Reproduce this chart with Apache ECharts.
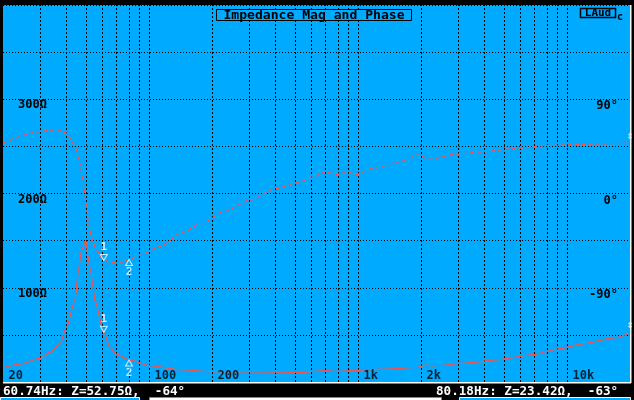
<!DOCTYPE html>
<html>
<head>
<meta charset="utf-8">
<script src="https://cdn.jsdelivr.net/npm/echarts@6/dist/echarts.min.js"></script>
<style>
html,body{margin:0;padding:0;background:#000;}
#c{width:634px;height:400px;}
</style>
</head>
<body>
<div id="c"></div>
<script>
// ---- data ----
var magFreq = [20, 24.1, 30, 33.5, 37.4, 40.2, 44.2, 45.9, 47.5, 49.9, 50.9, 52.5, 54, 55, 60.74, 64.9, 69.3, 80.18, 100.8, 140, 195, 525, 704, 786, 1016, 1362, 1895, 2116, 2268, 3286, 4738, 6814, 9168, 11848, 16754, 20000];
var magOhm  = [15, 19, 25, 31.5, 40, 58, 86.5, 118, 140, 150, 134, 118, 100, 86.5, 52.75, 37, 30, 23.42, 17.4, 13, 11, 10.2, 12, 11.2, 12.7, 13.7, 15.4, 18, 17, 20.1, 23.7, 29, 35.1, 40.4, 46.8, 52];

var phaseFreq = [20, 30, 33.5, 37.4, 40.2, 42.1, 44.2, 46.7, 48.4, 49.9, 51.2, 53.1, 56.1, 60.74, 67.1, 74.9, 80.18, 90.3, 112.5, 144.9, 178, 225.8, 302.8, 406, 525, 607, 704, 771, 893, 979, 1175, 1577, 1928, 2194, 2944, 3944, 5694, 8214, 11848, 19100, 20000];
var phaseDeg  = [48.4, 59, 60.6, 60.6, 57.7, 52.5, 44.8, 29, 10.3, -7.9, -26.5, -42.8, -54.3, -64, -66, -65.5, -63, -59, -51, -36.8, -28.7, -17.6, -6.4, 4.8, 11.1, 15.9, 20.7, 18.2, 20.1, 18.2, 23.9, 30.3, 36.7, 32.8, 37.6, 39.8, 43.1, 46, 46.9, 47.9, 48];

var gridFreqs = [30, 40, 50, 60, 70, 80, 90, 100, 200, 300, 400, 500, 600, 700, 800, 900, 1000, 2000, 3000, 4000, 5000, 6000, 7000, 8000, 9000, 10000];
var xLabelFreqs = [20, 100, 200, 1000, 2000, 10000];
var xLabelTexts = ['20', '100', '200', '1k', '2k', '10k'];
var magLabelValues = [100, 200, 300];
var phaseLabelValues = [-90, 0, 90];

var cursor1 = {f: 60.74, z: 52.75, p: -64, name: '1'};
var cursor2 = {f: 80.18, z: 23.42, p: -63, name: '2'};
var edgeMarks = {f: 20000, z: 60, p: 55};
var statusLeft = '60.74Hz: Z=52.75\u03A9,  -64\u00B0';
var statusRight = '80.18Hz: Z=23.42\u03A9,  -63\u00B0';
var title = 'Impedance Mag and Phase';

// ---- build ----
function zip(a, b) { return a.map(function (v, i) { return [v, b[i]]; }); }
var FONT = 'DejaVu Sans Mono';
var RED = '#ff5048';
var BLUE = '#00aaff';

var chart = echarts.init(document.getElementById('c'), null, {renderer: 'canvas'});

function markerSeries(c, axisIdx, val, down) {
  return {
    type: 'scatter', xAxisIndex: 0, yAxisIndex: axisIdx, silent: true, z: 10,
    data: [[c.f, val]],
    symbol: 'triangle', symbolSize: [7, 6], symbolRotate: down ? 180 : 0,
    symbolOffset: [0, down ? -3 : 3],
    itemStyle: {color: BLUE, borderColor: '#fff', borderWidth: 1},
    label: {show: true, formatter: c.name, position: down ? 'top' : 'bottom', distance: 1,
      color: '#fff', fontFamily: FONT, fontWeight: 'bold', fontSize: 11}
  };
}
function edgeSeries(axisIdx, val) {
  return {
    type: 'scatter', xAxisIndex: 0, yAxisIndex: axisIdx, silent: true, z: 10, clip: false,
    data: [[edgeMarks.f, val]],
    symbolSize: 1, itemStyle: {color: 'rgba(0,0,0,0)'},
    label: {show: true, formatter: '\u21D5', position: 'inside', color: '#fff',
      fontFamily: FONT, fontWeight: 'bold', fontSize: 11}
  };
}

var option = {
  backgroundColor: '#000',
  animation: false,
  grid: {left: 3, right: 4, top: 5, bottom: 18, show: true, backgroundColor: BLUE, borderWidth: 0},
  xAxis: {
    type: 'log', logBase: 10, min: 20, max: 20000,
    axisLine: {show: false}, axisTick: {show: false}, axisLabel: {show: false}, splitLine: {show: false}
  },
  yAxis: [{
    type: 'value', min: 0, max: 400, interval: 50, position: 'left',
    axisLine: {show: false}, axisTick: {show: false},
    splitLine: {show: true, lineStyle: {color: '#000', type: [1, 2], width: 1}},
    axisLabel: {inside: true, margin: 15, color: '#000', fontFamily: FONT, fontWeight: 'bold', fontSize: 12,
      verticalAlign: 'top', padding: [0, 0, 0, 0],
      formatter: function (v) { return magLabelValues.indexOf(v) >= 0 ? v + '\u03A9' : ''; }}
  }, {
    type: 'value', min: -180, max: 180, interval: 45, position: 'right',
    axisLine: {show: false}, axisTick: {show: false}, splitLine: {show: false},
    axisLabel: {inside: true, margin: 12, color: '#000', fontFamily: FONT, fontWeight: 'bold', fontSize: 12,
      verticalAlign: 'top', padding: [1, 0, 0, 0],
      formatter: function (v) { return phaseLabelValues.indexOf(v) >= 0 ? v + '\u00B0' : ''; }}
  }],
  series: [{
    type: 'line', name: 'mag', xAxisIndex: 0, yAxisIndex: 0, data: zip(magFreq, magOhm),
    showSymbol: false, symbol: 'none', smooth: 0.25, smoothMonotone: 'x', z: 5,
    lineStyle: {color: RED, width: 1.2},
    markLine: {
      silent: true, symbol: 'none', animation: false, z: 1,
      label: {show: false},
      lineStyle: {color: '#000', type: [2, 2], width: 1},
      emphasis: {disabled: true},
      data: gridFreqs.map(function (f) { return {xAxis: f}; })
    }
  }, {
    type: 'line', name: 'phase', xAxisIndex: 0, yAxisIndex: 1, data: zip(phaseFreq, phaseDeg),
    showSymbol: false, symbol: 'none', smooth: 0.25, smoothMonotone: 'x', z: 5,
    lineStyle: {color: RED, width: 1.2, type: [4, 3]}
  }, {
    type: 'scatter', xAxisIndex: 0, yAxisIndex: 0, silent: true, z: 6,
    data: xLabelFreqs.map(function (f, i) { return {value: [f, 7], name: xLabelTexts[i]}; }),
    symbolSize: 1, itemStyle: {color: 'rgba(0,0,0,0)'},
    label: {show: true, position: 'right', distance: 5, formatter: '{b}',
      color: '#000', fontFamily: FONT, fontWeight: 'bold', fontSize: 12}
  },
  markerSeries(cursor1, 1, cursor1.p, true),
  markerSeries(cursor1, 0, cursor1.z, true),
  markerSeries(cursor2, 1, cursor2.p, false),
  markerSeries(cursor2, 0, cursor2.z, false),
  edgeSeries(1, edgeMarks.p),
  edgeSeries(0, edgeMarks.z)
  ],
  graphic: [
    {type: 'rect', shape: {x: 630, y: 5, width: 1.5, height: 378}, style: {fill: '#fff'}, z: 100},
    {type: 'rect', shape: {x: 3, y: 382, width: 628, height: 1.5}, style: {fill: '#fff'}, z: 100},
    {type: 'rect', shape: {x: 216.5, y: 9.5, width: 195, height: 11}, style: {fill: BLUE, stroke: '#000', lineWidth: 1}, z: 100},
    {type: 'text', x: 314, y: 15.5, scaleX: 1.09, style: {text: title, fill: '#000', font: 'bold 12px "DejaVu Sans Mono"', align: 'center', verticalAlign: 'middle'}, z: 101},
    {type: 'rect', shape: {x: 580.5, y: 8.5, width: 35, height: 9}, style: {fill: BLUE, stroke: '#000', lineWidth: 1.5}, z: 100},
    {type: 'text', x: 598, y: 13, style: {text: 'LAud', fill: '#000', font: 'bold 11px "DejaVu Sans Mono"', align: 'center', verticalAlign: 'middle'}, z: 101},
    {type: 'text', x: 617, y: 17, style: {text: 'c', fill: '#000', font: 'bold 10px "DejaVu Sans Mono"', align: 'left', verticalAlign: 'middle'}, z: 101},
    {type: 'text', x: 3, y: 391.5, scaleX: 0.97, style: {text: statusLeft, fill: '#fff', font: 'bold 13px "DejaVu Sans Mono"', align: 'left', verticalAlign: 'middle'}, z: 101},
    {type: 'text', x: 436, y: 391.5, scaleX: 0.97, style: {text: statusRight, fill: '#fff', font: 'bold 13px "DejaVu Sans Mono"', align: 'left', verticalAlign: 'middle'}, z: 101},
    {type: 'rect', shape: {x: 0.5, y: 397.5, width: 139, height: 6}, style: {fill: BLUE, stroke: '#fff', lineWidth: 1}, z: 100},
    {type: 'rect', shape: {x: 149.5, y: 397.5, width: 292, height: 6}, style: {fill: '#fff', stroke: '#ff5555', lineWidth: 1}, z: 100},
    {type: 'rect', shape: {x: 459.5, y: 397.5, width: 171, height: 6}, style: {fill: BLUE, stroke: '#fff', lineWidth: 1}, z: 100}
  ]
};
chart.setOption(option);
</script>
</body>
</html>
